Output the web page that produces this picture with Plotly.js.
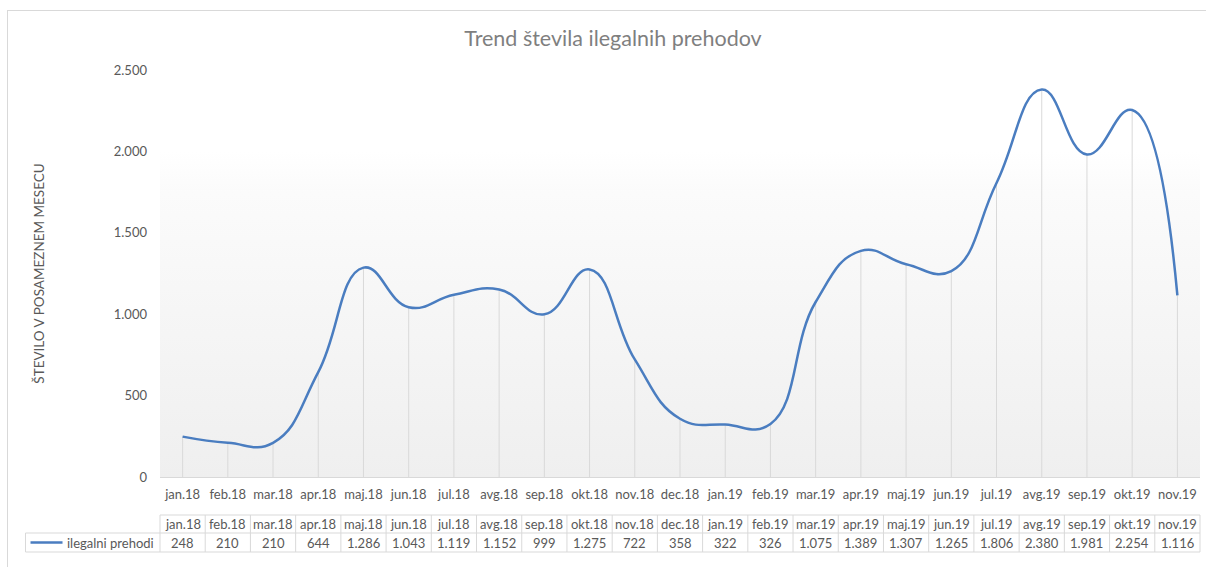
<!DOCTYPE html>
<html>
<head>
<meta charset="utf-8">
<script src="https://cdn.plot.ly/plotly-3.0.1.min.js"></script>
<style>
  html, body { margin: 0; padding: 0; background: #ffffff; }
  #wrap { position: relative; width: 1206px; height: 567px; overflow: hidden; }
  #frame { position: absolute; left: 7px; top: 10px; width: 1220px; height: 600px;
           border-top: 1px solid #d9d9d9; border-left: 1px solid #d9d9d9; box-sizing: border-box; }
  #grad { position: absolute; left: 159.5px; top: 70px; width: 1040px; height: 407px;
          background: linear-gradient(to bottom, #ffffff 0%, #ffffff 20%, #fbfbfb 30%, #efefef 100%); }
  #chart { position: absolute; left: 0; top: 0; width: 1206px; height: 567px; }
</style>
</head>
<body>
<div id="wrap">
  <div id="frame"></div>
  <div id="grad"></div>
  <div id="chart"></div>
</div>
<script>
const months = ["jan.18","feb.18","mar.18","apr.18","maj.18","jun.18","jul.18","avg.18","sep.18","okt.18","nov.18","dec.18",
                "jan.19","feb.19","mar.19","apr.19","maj.19","jun.19","jul.19","avg.19","sep.19","okt.19","nov.19"];
const crossings = [248,210,210,644,1286,1043,1119,1152,999,1275,722,358,
                   322,326,1075,1389,1307,1265,1806,2380,1981,2254,1116];
const seriesName = "ilegalni prehodi";
const yTicks = [0,500,1000,1500,2000,2500];

const W = 1206, H = 567;
const L = 159.5, R = 6.4, T = 70, B = 90;
const plotW = W - L - R, plotH = H - T - B;
const px2x = p => (p - L) / plotW;
const py2y = p => (H - B - p) / plotH;

const fmt = v => String(v).replace(/\B(?=(\d{3})+(?!\d))/g, ".");
const textColor = "#595959";
const gridColor = "#d9d9d9";
const lineColor = "#4a7dc0";
const fontFam = "Lato, 'Open Sans', sans-serif";

const n = months.length;
const headTop = py2y(515), headMid = py2y(533), headBot = py2y(552);
const legLeft = px2x(25);

const shapes = [];
shapes.push({type:"line", xref:"paper", yref:"paper", x0:0, x1:1, y0:headTop, y1:headTop, line:{color:gridColor, width:1}});
shapes.push({type:"line", xref:"paper", yref:"paper", x0:legLeft, x1:1, y0:headMid, y1:headMid, line:{color:gridColor, width:1}});
shapes.push({type:"line", xref:"paper", yref:"paper", x0:legLeft, x1:1, y0:headBot, y1:headBot, line:{color:gridColor, width:1}});
for (let i = 0; i <= n; i++) {
  shapes.push({type:"line", xref:"paper", yref:"paper", x0:i/n, x1:i/n, y0:headTop, y1:headBot, line:{color:gridColor, width:1}});
}
shapes.push({type:"line", xref:"paper", yref:"paper", x0:legLeft, x1:legLeft, y0:headMid, y1:headBot, line:{color:gridColor, width:1}});
shapes.push({type:"line", xref:"paper", yref:"paper", x0:px2x(30), x1:px2x(62), y0:py2y(542.5), y1:py2y(542.5), line:{color:lineColor, width:2.5}});

const annotations = [];
months.forEach((m, i) => {
  annotations.push({xref:"x", yref:"paper", x:m, y:py2y(524), text:m, showarrow:false,
    xanchor:"center", yanchor:"middle", font:{family:fontFam, size:13, color:textColor}});
  annotations.push({xref:"x", yref:"paper", x:m, y:py2y(543), text:fmt(crossings[i]), showarrow:false,
    xanchor:"center", yanchor:"middle", font:{family:fontFam, size:13, color:textColor}});
});
annotations.push({xref:"paper", yref:"paper", x:px2x(64), y:py2y(543), text:seriesName, showarrow:false,
  xanchor:"left", yanchor:"middle", font:{family:fontFam, size:13, color:textColor}});

const traces = [
  {
    type:"scatter", mode:"markers", x:months, y:crossings, hoverinfo:"skip", showlegend:false,
    marker:{opacity:0, size:1},
    error_y:{type:"data", symmetric:false, array:crossings.map(() => 0), arrayminus:crossings,
             color:gridColor, thickness:1, width:0}
  },
  {
    type:"scatter", mode:"lines", name:seriesName, x:months, y:crossings, showlegend:false,
    line:{color:lineColor, width:2.5, shape:"spline", smoothing:1.3}
  }
];

const layout = {
  width:W, height:H,
  margin:{l:L, r:R, t:T, b:B, pad:0},
  paper_bgcolor:"rgba(0,0,0,0)", plot_bgcolor:"rgba(0,0,0,0)",
  separators:",.",
  font:{family:fontFam, size:13, color:textColor},
  title:{text:"Trend števila ilegalnih prehodov", x:613/W, xref:"container", xanchor:"center",
         y:1 - 38/H, yref:"container", yanchor:"middle", font:{family:fontFam, size:21.5, color:"#7f7f7f"}},
  xaxis:{type:"category", categoryorder:"array", categoryarray:months, range:[-0.5, n-0.5],
         showgrid:false, zeroline:false, showline:true, linecolor:gridColor, linewidth:1,
         ticks:"", ticklabelstandoff:5, tickfont:{family:fontFam, size:13, color:textColor}, fixedrange:true},
  yaxis:{range:[0,2500], tickvals:yTicks, tickformat:",d", showgrid:false, zeroline:false, showline:false,
         ticks:"", ticklabelstandoff:12, tickfont:{family:fontFam, size:13, color:textColor},
         title:{text:"ŠTEVILO V POSAMEZNEM MESECU", standoff:66, font:{family:fontFam, size:13.5, color:textColor}},
         fixedrange:true},
  shapes:shapes,
  annotations:annotations,
  hovermode:false
};

Plotly.newPlot("chart", traces, layout, {displayModeBar:false, staticPlot:true});
</script>
</body>
</html>
